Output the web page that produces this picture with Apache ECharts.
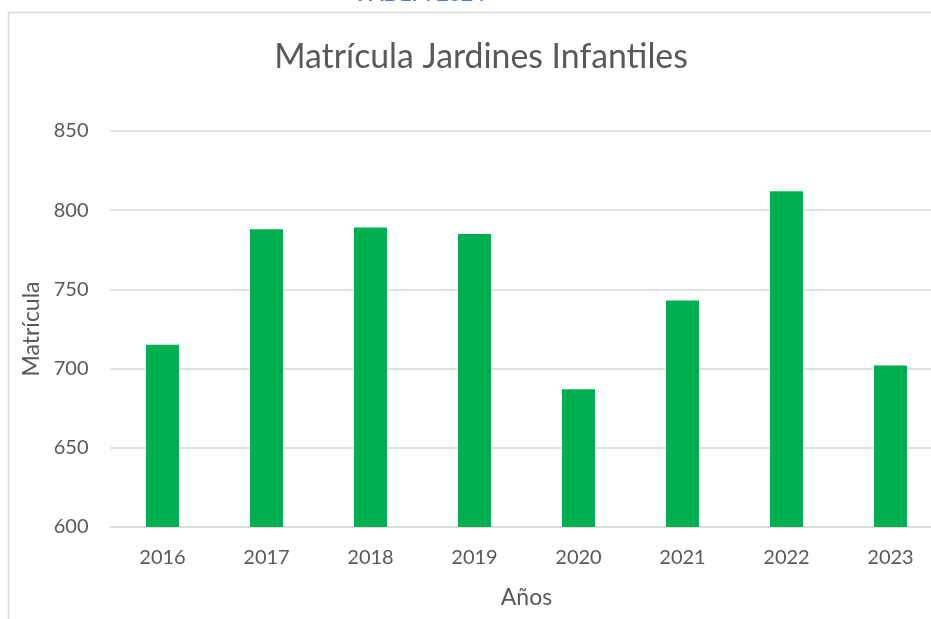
<!DOCTYPE html>
<html>
<head>
<meta charset="utf-8">
<script src="https://cdn.jsdelivr.net/npm/echarts@6/dist/echarts.min.js"></script>
<style>
  html, body { margin: 0; padding: 0; background: #fff; }
  #chart { width: 931px; height: 619px; }
</style>
</head>
<body>
<div id="chart"></div>
<script>
// datos
var years = ["2016", "2017", "2018", "2019", "2020", "2021", "2022", "2023"];
var matricula = [715, 788, 789, 785, 687, 743, 812, 702];
var yTicks = [600, 650, 700, 750, 800, 850];

var chart = echarts.init(document.getElementById("chart"));
var font = "Lato, 'Open Sans', sans-serif";

chart.setOption({
  backgroundColor: "#fff",
  animation: false,
  title: {
    text: "Matrícula Jardines Infantiles",
    left: 476,
    top: 35,
    textAlign: "center",
    textStyle: { fontFamily: font, fontSize: 33.8, fontWeight: "normal", color: "#595959" }
  },
  graphic: [
    {
      // marco del gráfico (borde superior e izquierdo)
      type: "polyline",
      shape: { points: [[8.5, 619], [8.5, 12.5], [931, 12.5]] },
      style: { stroke: "#d9d9d9", lineWidth: 1.5, fill: null }
    },
    {
      // texto cortado arriba
      type: "text",
      left: 357,
      top: -16,
      style: { text: "PADEM 2024", font: "bold 21px " + font, fill: "#4a7cc9" }
    }
  ],
  // el área del gráfico sigue más allá del borde derecho
  grid: { left: 110.5, width: 832, top: 131, bottom: 92, outerBoundsMode: "none", containLabel: false },
  xAxis: {
    type: "category",
    data: years,
    name: "Años",
    nameLocation: "middle",
    nameGap: 59,
    nameTextStyle: { fontFamily: font, fontSize: 23, color: "#595959" },
    axisLine: { show: true, lineStyle: { color: "#d9d9d9", width: 1.5 } },
    axisTick: { show: false },
    axisLabel: { fontFamily: font, fontSize: 20, color: "#595959", margin: 21 }
  },
  yAxis: {
    type: "value",
    min: yTicks[0],
    max: yTicks[yTicks.length - 1],
    interval: 50,
    name: "Matrícula",
    nameLocation: "middle",
    nameGap: 66,
    nameTextStyle: { fontFamily: font, fontSize: 23, color: "#595959" },
    axisLine: { show: false },
    axisTick: { show: false },
    axisLabel: { fontFamily: font, fontSize: 20, color: "#595959", margin: 22 },
    splitLine: { lineStyle: { color: "#d9d9d9", width: 1.5 } }
  },
  series: [
    {
      type: "bar",
      data: matricula,
      barWidth: 33,
      itemStyle: { color: "#00b050" }
    }
  ]
});
</script>
</body>
</html>
